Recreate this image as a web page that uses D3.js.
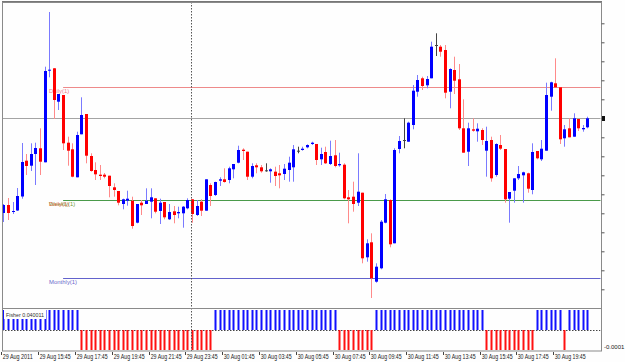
<!DOCTYPE html>
<html><head><meta charset="utf-8">
<script src="https://cdn.jsdelivr.net/npm/d3@7"></script>
<style>html,body{margin:0;padding:0;background:#fff;}svg{display:block;font-family:"Liberation Sans",Arial,sans-serif;}</style>
</head><body><svg id="c" width="625" height="362"></svg>
<script>
// ---- data (EURUSD-like M15 bars, 29 Aug 2011 13:45 onward) ----
const startTime = "2011-08-29T13:45:00";
const open=[1.4087,1.4095,1.4088,1.40895,1.41035,1.41393,1.41343,1.4146,1.41517,1.41377,
1.42297,1.42317,1.41983,1.4205,1.41573,1.41507,1.41227,1.41657,1.4186,1.4144,
1.4130,1.41253,1.41253,1.41243,1.41127,1.4109,1.4096,1.40993,1.40993,1.40773,
1.40973,1.4096,1.40983,1.41017,1.4089,1.4098,1.40807,1.40887,1.40867,1.40867,
1.40917,1.41007,1.4085,1.40983,1.40893,1.4115,1.4105,1.41193,1.41207,1.4120,
1.41307,1.41373,1.41503,1.41483,1.41233,1.41347,1.41327,1.41297,1.41287,1.41283,
1.41267,1.4126,1.4130,1.41327,1.41493,1.4150,1.41527,1.4156,1.4156,1.41407,
1.4148,1.4136,1.41447,1.41347,1.41353,1.41027,1.41033,1.40973,1.41073,1.40427,
1.40577,1.40183,1.40317,1.40773,1.4100,1.40567,1.4151,1.4160,1.41583,1.4175,
1.42083,1.42217,1.42147,1.42217,1.4255,1.42533,1.4250,1.42083,1.4230,1.42207,
1.41717,1.41483,1.41707,1.41687,1.4170,1.41493,1.4160,1.4125,1.4155,1.4151,
1.41013,1.41093,1.41217,1.41247,1.41267,1.4110,1.4149,1.41407,1.41493,1.42033,
1.42167,1.42127,1.41617,1.41717,1.41633,1.4181,1.41707,1.41727];
const high=[1.4096,1.4102,1.4098,1.4112,1.4157,1.4146,1.41567,1.41573,1.41717,1.42333,
1.4288,1.4232,1.4206,1.4205,1.41633,1.41567,1.41683,1.42027,1.4186,1.41467,
1.41377,1.4135,1.4127,1.41243,1.41167,1.4109,1.41013,1.41093,1.41033,1.4096,
1.4100,1.41117,1.41117,1.41017,1.41013,1.4098,1.4096,1.4094,1.40933,1.4094,
1.41017,1.41007,1.4100,1.41007,1.41207,1.41167,1.41183,1.41227,1.41317,1.41333,
1.4136,1.41543,1.41517,1.41483,1.41367,1.41367,1.4135,1.41367,1.41317,1.41333,
1.4135,1.4136,1.41433,1.4155,1.41533,1.41533,1.41557,1.41583,1.4156,1.41523,
1.41533,1.41593,1.4160,1.41473,1.41367,1.4110,1.41183,1.41467,1.41073,1.40607,
1.40667,1.40367,1.4080,1.4106,1.41007,1.41517,1.4164,1.41817,1.41783,1.4215,
1.4225,1.42233,1.4224,1.42583,1.42667,1.4255,1.4255,1.42317,1.42433,1.4236,
1.42007,1.41773,1.41817,1.41767,1.41717,1.41733,1.41633,1.41567,1.4165,1.4151,
1.4108,1.41217,1.4134,1.41283,1.41273,1.41567,1.4149,1.4160,1.42173,1.42183,
1.42417,1.42127,1.4175,1.41817,1.41867,1.4181,1.4175,1.41833];
const low=[1.4078,1.4080,1.4086,1.4089,1.41013,1.4125,1.4129,1.4115,1.4125,1.41377,
1.42227,1.4181,1.4190,1.4150,1.41343,1.41227,1.41227,1.41657,1.41367,1.41283,
1.4120,1.4120,1.41217,1.41027,1.41033,1.40947,1.40907,1.40943,1.40713,1.40767,
1.4085,1.4096,1.40817,1.40867,1.4076,1.40807,1.4080,1.40767,1.40817,1.40723,
1.40907,1.40773,1.4084,1.4084,1.40893,1.4094,1.4104,1.4114,1.41173,1.41167,
1.41217,1.41367,1.4140,1.4120,1.41217,1.41267,1.41273,1.41283,1.41173,1.4114,
1.41117,1.4120,1.41183,1.41183,1.41467,1.41493,1.41517,1.4155,1.4135,1.4135,
1.4136,1.4135,1.41327,1.41333,1.41007,1.40767,1.40883,1.4094,1.40367,1.40383,
1.4002,1.40173,1.40307,1.40767,1.40527,1.40567,1.41467,1.41517,1.41583,1.41707,
1.42033,1.4210,1.42117,1.42217,1.4244,1.42433,1.42017,1.41917,1.4206,1.4170,
1.41473,1.4134,1.41683,1.41583,1.4155,1.41233,1.41183,1.41233,1.4150,1.40973,
1.40773,1.40973,1.4120,1.40973,1.41073,1.41057,1.41407,1.4139,1.41493,1.41893,
1.42127,1.4156,1.41533,1.41627,1.41633,1.4169,1.41683,1.41717];
const close=[1.4095,1.4087,1.4089,1.4104,1.4138,1.4134,1.4146,1.4152,1.41383,1.4229,
1.42303,1.4200,1.4206,1.41567,1.41493,1.41233,1.4165,1.4185,1.41443,1.4129,
1.41257,1.4124,1.41233,1.4114,1.4110,1.40973,1.41007,1.41013,1.4074,1.4096,
1.40947,1.40993,1.41027,1.40883,1.40973,1.40827,1.4088,1.4085,1.4088,1.40933,
1.4100,1.4086,1.4094,1.40893,1.41207,1.4104,1.4118,1.41207,1.4118,1.41317,
1.4136,1.4150,1.4149,1.41233,1.4134,1.41327,1.41287,1.41297,1.41307,1.4124,
1.41247,1.41313,1.41373,1.41507,1.41493,1.41513,1.4155,1.41573,1.4140,1.4146,
1.41367,1.4144,1.4134,1.4136,1.41017,1.41007,1.4096,1.41083,1.40417,1.40567,
1.40217,1.40333,1.40783,1.41007,1.40557,1.4150,1.4159,1.4160,1.41773,1.42093,
1.4220,1.4214,1.4221,1.42533,1.4255,1.42483,1.42073,1.4231,1.42193,1.41717,
1.41473,1.41717,1.41693,1.41713,1.4160,1.4159,1.41217,1.4156,1.41513,1.41007,
1.4108,1.41217,1.4126,1.41277,1.41113,1.4148,1.41417,1.41513,1.4205,1.42177,
1.42127,1.41607,1.41707,1.41627,1.41817,1.41717,1.4172,1.41817];
const fisher=[
0.0001,0.0001,0.0001,0.0001,0.0001,0.0001,0.0001,0.0001,0.0001,0.0001,0.0001,0.0001,0.0001,0.0001,0.0001,0.0001,0.0001,
-0.0001,-0.0001,-0.0001,-0.0001,-0.0001,-0.0001,-0.0001,-0.0001,-0.0001,-0.0001,-0.0001,-0.0001,-0.0001,-0.0001,-0.0001,-0.0001,-0.0001,-0.0001,-0.0001,-0.0001,-0.0001,-0.0001,-0.0001,-0.0001,-0.0001,-0.0001,-0.0001,-0.0001,-0.0001,
0.0001,0.0001,0.0001,0.0001,0.0001,0.0001,0.0001,0.0001,0.0001,0.0001,0.0001,0.0001,0.0001,0.0001,0.0001,0.0001,0.0001,0.0001,0.0001,0.0001,0.0001,0.0001,0.0001,0.0001,0.0001,0.0001,0.0001,
-0.0001,-0.0001,-0.0001,-0.0001,-0.0001,-0.0001,-0.0001,-0.0001,
0.0001,0.0001,0.0001,0.0001,0.0001,0.0001,0.0001,0.0001,0.0001,0.0001,0.0001,0.0001,0.0001,0.0001,0.0001,0.0001,0.0001,0.0001,0.0001,0.0001,0.0001,0.0001,0.0001,0.0001,
-0.0001,-0.0001,-0.0001,-0.0001,-0.0001,-0.0001,-0.0001,-0.0001,-0.0001,-0.0001,-0.0001,
0.0001,0.0001,0.0001,0.0001,0.0001,0.0001,
-0.0001,
0.0001,0.0001,0.0001,0.0001,0.0001];
const xTickLabels=["29 Aug 2011","29 Aug 15:45","29 Aug 17:45","29 Aug 19:45","29 Aug 21:45","29 Aug 23:45",
"30 Aug 01:45","30 Aug 03:45","30 Aug 05:45","30 Aug 07:45","30 Aug 09:45","30 Aug 11:45","30 Aug 13:45",
"30 Aug 15:45","30 Aug 17:45","30 Aug 19:45"];
const xTickBars=[0,8,16,24,32,40,48,56,64,72,80,88,96,104,112,120];
const priceTicks=[1.42767,1.42577,1.42387,1.42197,1.42007,1.41817,1.41627,1.41437,1.41247,1.41057,1.40867,1.40677,1.40487,1.40297,1.40107];
const levelNames=["Daily(1)","Weekly(1)","Daily(1)","Monthly(1)"];
const levelValues=[1.42127,1.40997,1.40997,1.40217];
const levelColors=["#f07a8a","#6f9a3a","#e07050","#6a6acc"];
const levelLineColors=["#ee8a8a","#4a9a4a",null,"#6262cc"];
const levelStartBar=13;
const fisherLabel="Fisher 0.040011";
const fisherAxisLabel="-0.0001";
const separatorBar=41;

// ---- build ----
const fmt = d3.timeFormat("%Y-%m-%d %H:%M");
const t0 = new Date(startTime);
const times = open.map((_,i)=>fmt(d3.timeMinute.offset(t0, 15*i)));
const bars = open.map((o,i)=>({t:times[i],o,h:high[i],l:low[i],c:close[i],f:fisher[i]}));

const svg=d3.select("#c");
svg.append("rect").attr("width",625).attr("height",362).attr("fill","#fefefe");

const L=2, R=601, mainTop=2, mainBot=308, subTop=310, subBot=351;
const x=d3.scalePoint().domain(times).range([3.3, 3.3+4.6*(times.length-1)]);
const y=d3.scaleLinear().domain([1.40,1.43]).range([300,0]);
const yf=d3.scaleLinear().domain([-0.0001,0.0001]).range([350,310]);

svg.append("clipPath").attr("id","cm").append("rect").attr("x",L+0.5).attr("y",mainTop+1).attr("width",R-L-1).attr("height",mainBot-mainTop-1);
svg.append("clipPath").attr("id","cs").append("rect").attr("x",L+0.5).attr("y",subTop).attr("width",R-L-1).attr("height",subBot-subTop);

const gm=svg.append("g").attr("clip-path","url(#cm)");
const gs=svg.append("g").attr("clip-path","url(#cs)");

// level labels (drawn under candles)
const lx = x(times[levelStartBar]);
levelValues.forEach((v,i)=>{
  gm.append("text").attr("x",lx-14).attr("y",y(v)+5.5)
    .attr("font-size",6.2).attr("fill",levelColors[i]).attr("textLength",i===3?28:(i===0||i===2?20:26)).attr("lengthAdjust","spacingAndGlyphs")
    .text(levelNames[i]);
  if(levelLineColors[i]) gm.append("line").attr("x1",lx).attr("x2",R).attr("y1",Math.round(y(v))+0.5).attr("y2",Math.round(y(v))+0.5)
    .attr("stroke",levelLineColors[i]).attr("stroke-width",1);
});
// bid line
const bid=close[close.length-1];
gm.append("line").attr("x1",L).attr("x2",R).attr("y1",Math.round(y(bid))+0.5).attr("y2",Math.round(y(bid))+0.5).attr("stroke","#a4a4a4");

// period separator
const sx=Math.round(x(times[separatorBar])-0.6)+0.5;
svg.append("line").attr("x1",sx).attr("x2",sx).attr("y1",mainTop).attr("y2",subBot).attr("stroke","#555").attr("stroke-dasharray","1.5,1.5");

// candles
const cg=gm.selectAll("g.c").data(bars).join("g");
cg.append("line").attr("x1",d=>Math.round(x(d.t))+0.5).attr("x2",d=>Math.round(x(d.t))+0.5)
  .attr("y1",d=>y(d.h)).attr("y2",d=>y(d.l))
  .attr("stroke",d=>d.c>d.o?"#7a7aff":d.c<d.o?"#ff8a8a":"#444");
cg.append("rect").attr("x",d=>Math.round(x(d.t))-1).attr("width",3)
  .attr("y",d=>y(Math.max(d.o,d.c))).attr("height",d=>Math.max(1,Math.abs(y(d.o)-y(d.c))))
  .attr("fill",d=>d.c>d.o?"#0000ff":d.c<d.o?"#ff0000":"#444");

// indicator
gs.append("line").attr("x1",L).attr("x2",R).attr("y1",yf(0)+0.5).attr("y2",yf(0)+0.5).attr("stroke","#444").attr("stroke-dasharray","1.5,1.5");
gs.selectAll("rect.f").data(bars).join("rect")
  .attr("x",d=>Math.round(x(d.t))-0.5).attr("width",2)
  .attr("y",d=>d.f>0?yf(d.f):yf(0)).attr("height",d=>Math.abs(yf(d.f)-yf(0)))
  .attr("fill",d=>d.f>0?"#1010ff":"#ff1010");
svg.append("rect").attr("x",4).attr("y",subTop).attr("width",42).attr("height",9).attr("fill","#fefefe");
svg.append("text").attr("x",6).attr("y",317).attr("font-size",6.2).attr("fill","#333")
  .attr("textLength",38).attr("lengthAdjust","spacingAndGlyphs").text(fisherLabel);

// frames
svg.append("rect").attr("x",L+0.5).attr("y",mainTop+0.5).attr("width",R-L).attr("height",mainBot-mainTop).attr("fill","none").attr("stroke","#8a8a8a");
svg.append("line").attr("x1",L).attr("x2",R+1).attr("y1",1.5).attr("y2",1.5).attr("stroke","#777");
svg.append("rect").attr("x",L+0.5).attr("y",subTop-1.5).attr("width",R-L).attr("height",subBot-subTop+1.5).attr("fill","none").attr("stroke","#8a8a8a");

// right price axis ticks
const ay=d3.axisRight(y).tickValues(priceTicks).tickSize(3).tickFormat("");
const ag=svg.append("g").attr("transform",`translate(${R+0.5},0)`).call(ay);
ag.select(".domain").remove(); ag.selectAll("line").attr("stroke","#555");
svg.append("rect").attr("x",R+1).attr("y",Math.round(y(bid))-2).attr("width",3).attr("height",5).attr("fill","#111");
// indicator axis
svg.append("text").attr("x",R+3).attr("y",349).attr("font-size",6).attr("fill","#222").text(fisherAxisLabel);

// time axis
const xa=svg.append("g");
xTickBars.forEach((b,i)=>{
  const px=Math.round(x(times[b]))-1.5;
  xa.append("line").attr("x1",px).attr("x2",px).attr("y1",subBot+1).attr("y2",subBot+4).attr("stroke","#444");
  xa.append("text").attr("x",px+1.2).attr("y",359).attr("font-size",6.3).attr("fill","#222")
    .attr("textLength",i===0?30:31).attr("lengthAdjust","spacingAndGlyphs").text(xTickLabels[i]);
});
</script></body></html>
